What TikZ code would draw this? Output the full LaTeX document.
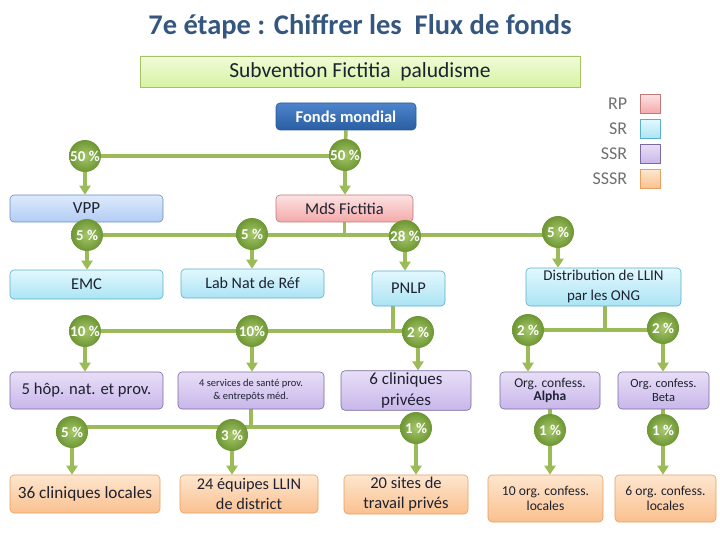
\documentclass[tikz,border=0pt]{standalone}
\usepackage{fontspec}
\setmainfont{Carlito}
\usetikzlibrary{positioning, arrows.meta, backgrounds}
\definecolor{titleblue}{HTML}{35577F}
\definecolor{textdark}{HTML}{1E2230}
\definecolor{flowgreen}{HTML}{9BBB59}
\definecolor{pcin}{HTML}{A6C76A}
\definecolor{pcout}{HTML}{6E9634}
\definecolor{subtop}{HTML}{F0FCD8}
\definecolor{subbot}{HTML}{D6F3A4}
\definecolor{subline}{HTML}{A4C464}
\definecolor{fmtop}{HTML}{4D84CC}
\definecolor{fmbot}{HTML}{2A5EA2}
\definecolor{fmline}{HTML}{2A5A98}
\definecolor{vpptop}{HTML}{DDE9FC}
\definecolor{vppbot}{HTML}{B2CDF4}
\definecolor{vppline}{HTML}{6A8CC0}
\definecolor{rptop}{HTML}{FCE2E2}
\definecolor{rpbot}{HTML}{F4A9A9}
\definecolor{rpline}{HTML}{C07878}
\definecolor{srtop}{HTML}{E2F8FE}
\definecolor{srbot}{HTML}{ABE4F4}
\definecolor{srline}{HTML}{5EAEC8}
\definecolor{ssrtop}{HTML}{E8DEF7}
\definecolor{ssrbot}{HTML}{C8B7EA}
\definecolor{ssrline}{HTML}{7A6A9E}
\definecolor{sssrtop}{HTML}{FEE6CE}
\definecolor{sssrbot}{HTML}{FAC08F}
\definecolor{sssrline}{HTML}{E8A060}
\definecolor{leggray}{HTML}{707070}
\newcommand{\fsz}[2]{\fontsize{#1}{#2}\selectfont}

\begin{document}
\begin{tikzpicture}[x=1pt, y=-1pt,
        box/.style={rectangle, rounded corners=4pt, draw, semithick, align=center, text=textdark, inner sep=2pt},
        subbox/.style={rectangle, draw=subline, top color=subtop, bottom color=subbot, minimum width=440pt, minimum height=31pt, font=\fsz{21.5}{24}, text=textdark},
        fmbox/.style={box, draw=fmline, top color=fmtop, bottom color=fmbot, text=white, font=\bfseries\fsz{16.5}{18}},
        vppbox/.style={box, draw=vppline, top color=vpptop, bottom color=vppbot},
        rpbox/.style={box, draw=rpline, top color=rptop, bottom color=rpbot},
        srbox/.style={box, draw=srline, top color=srtop, bottom color=srbot},
        ssrbox/.style={box, draw=ssrline, top color=ssrtop, bottom color=ssrbot},
        sssrbox/.style={box, draw=sssrline, top color=sssrtop, bottom color=sssrbot},
        legbox/.style={rectangle, semithick, minimum width=20pt, minimum height=19pt},
        legtxt/.style={font=\fsz{18}{20}, text=leggray, anchor=east},
        pct/.style={circle, minimum size=32pt, inner sep=0pt, inner color=pcin, outer color=pcout, text=white, font=\bfseries\fsz{15}{15}},
        flow/.style={line width=3.5pt, draw=flowgreen},
        arrow/.style={flow, -{Triangle[width=11pt,length=9pt]}},
    ]
    \useasboundingbox (0,0) rectangle (720,540);

    % ===== Title and grant =====
    \node[font=\bfseries\fsz{28.5}{32}, text=titleblue] (title) at (360,27) {7e étape : Chiffrer les\ \ Flux de fonds};
    \node[subbox] (sub) at (360,71.5) {Subvention Fictitia\ \ paludisme};

    % ===== Legend =====
    \node[legbox, draw=rpline, top color=rptop, bottom color=rpbot] (legRP) at (650,104) {};
    \node[legbox, draw=srline, top color=srtop, bottom color=srbot] (legSR) at (650,129) {};
    \node[legbox, draw=ssrline, top color=ssrtop, bottom color=ssrbot] (legSSR) at (650,154) {};
    \node[legbox, draw=sssrline, top color=sssrtop, bottom color=sssrbot] (legSSSR) at (650,179) {};
    \node[legtxt, left=9pt of legRP.west, anchor=east] {RP};
    \node[legtxt, left=9pt of legSR.west, anchor=east] {SR};
    \node[legtxt, left=9pt of legSSR.west, anchor=east] {SSR};
    \node[legtxt, left=9pt of legSSSR.west, anchor=east] {SSSR};

    % ===== Level 0 / 1 =====
    \node[fmbox, minimum width=140pt, minimum height=27pt] (FM) at (346,116.5) {Fonds mondial};
    \node[pct] (P50A) at (85,156) {50 \%};
    \node[pct] (P50B) at (345,155) {50 \%};
    \node[vppbox, minimum width=153pt, minimum height=27pt, font=\fsz{17}{19}] (VPP) at (86.5,208.5) {VPP};
    \node[rpbox, minimum width=137pt, minimum height=27pt, font=\fsz{16.5}{19}] (MDS) at (344.5,208.5) {MdS Fictitia};

    % ===== Level 2 (SR) =====
    \node[pct] (P5A) at (87,235) {5 \%};
    \node[pct] (P5B) at (252,234) {5 \%};
    \node[pct] (P28) at (405,236) {28 \%};
    \node[pct] (P5C) at (558,232) {5 \%};
    \node[srbox, minimum width=153pt, minimum height=29pt, font=\fsz{16.5}{19}] (EMC) at (86.5,284.5) {EMC};
    \node[srbox, minimum width=143pt, minimum height=29pt, font=\fsz{16}{18}] (LAB) at (252.5,283.5) {Lab Nat de Réf};
    \node[srbox, minimum width=73pt, minimum height=35pt, font=\fsz{16.5}{19}] (PNLP) at (408.5,288.5) {PNLP};
    \node[srbox, minimum width=155pt, minimum height=38pt, font=\fsz{15}{20}] (DIST) at (603.5,287) {Distribution de LLIN\\par les ONG};

    % ===== Level 3 (SSR) =====
    \node[pct] (P10A) at (85,331) {10 \%};
    \node[pct] (P10B) at (252,331) {10\%};
    \node[pct] (P2A) at (418,332) {2 \%};
    \node[pct] (P2B) at (528,330) {2 \%};
    \node[pct] (P2C) at (663,328) {2 \%};
    \node[ssrbox, minimum width=153pt, minimum height=37pt, font=\fsz{16.6}{18}] (HOP) at (86.5,390.5) {5 hôp. nat. et prov.};
    \node[ssrbox, minimum width=146pt, minimum height=37pt, font=\fsz{10.5}{13}] (SERV) at (251,390.5) {4 services de santé prov.\\\& entrepôts méd.};
    \node[ssrbox, minimum width=130pt, minimum height=37pt, font=\fsz{17}{21}] (CLI) at (406,390.5) {6 cliniques\\privées};
    \node[ssrbox, minimum width=100pt, minimum height=37pt, font=\fsz{13.5}{13.5}] (ALPHA) at (550,390.5) {Org. confess.\\\textbf{Alpha}};
    \node[ssrbox, minimum width=91pt, minimum height=37pt, font=\fsz{12.5}{13.5}] (BETA) at (663.5,390.5) {Org. confess.\\Beta};

    % ===== Level 4 (SSSR) =====
    \node[pct] (P5D) at (72,432) {5 \%};
    \node[pct] (P3) at (232,435) {3 \%};
    \node[pct] (P1A) at (416,428) {1 \%};
    \node[pct] (P1B) at (550,430) {1 \%};
    \node[pct] (P1C) at (663,430) {1 \%};
    \node[sssrbox, minimum width=150pt, minimum height=38pt, font=\fsz{17.2}{19}] (LOC) at (85,494) {36 cliniques locales};
    \node[sssrbox, minimum width=138pt, minimum height=38pt, font=\fsz{16.3}{20}] (EQU) at (249,494) {24 équipes LLIN\\de district};
    \node[sssrbox, minimum width=124pt, minimum height=39pt, font=\fsz{16.5}{20}] (SITES) at (406,494.5) {20 sites de\\travail privés};
    \node[sssrbox, minimum width=115pt, minimum height=47pt, font=\fsz{13.6}{15}] (ORG10) at (545.5,498.5) {10 org. confess.\\locales};
    \node[sssrbox, minimum width=101pt, minimum height=47pt, font=\fsz{13.6}{15}] (ORG6) at (665.5,498.5) {6 org. confess.\\locales};

    % ===== Split lines (behind the circles) =====
    \begin{scope}[on background layer]
        \draw[flow] (FM.south) -- (P50B.center);
        \draw[flow] (P50A.center) -- (P50A.center -| P50B.center);
        \draw[flow] (MDS.south) -- (MDS.south |- P5B.center);
        \draw[flow] (PNLP.south -| 393,0) -- (393,331);
        \draw[flow] (P5A.center) -- (P5A.center -| P5C.center);
        \draw[flow] (P10A.center) -- (P10A.center -| P2A.center);
        \draw[flow] (DIST.south -| 605,0) -- (605,330);
        \draw[flow] (P2B.center) -- (P2B.center -| P2C.center);
        \draw[flow] (SERV.south) -- (SERV.south |- 0,427);
        \draw[flow] (P5D.center |- 0,427) -- (P1A.center |- 0,427);
        \draw[flow] (ALPHA.south) -- (P1B.center);
        \draw[flow] (BETA.south -| P1C.center) -- (P1C.center);
    \end{scope}

    % ===== Arrows =====
    \draw[arrow] (P50A) -- (P50A |- VPP.north);
    \draw[arrow] (P50B) -- (P50B |- MDS.north);
    \draw[arrow] (P5A) -- (P5A |- EMC.north);
    \draw[arrow] (P5B) -- (P5B |- LAB.north);
    \draw[arrow] (P28) -- (P28 |- PNLP.north);
    \draw[arrow] (P5C) -- (P5C |- DIST.north);
    \draw[arrow] (P10A) -- (P10A |- HOP.north);
    \draw[arrow] (P10B) -- (P10B |- SERV.north);
    \draw[arrow] (P2A) -- (P2A |- CLI.north);
    \draw[arrow] (P2B) -- (P2B |- ALPHA.north);
    \draw[arrow] (P2C) -- (P2C |- BETA.north);
    \draw[arrow] (P5D) -- (P5D |- LOC.north);
    \draw[arrow] (P3) -- (P3 |- EQU.north);
    \draw[arrow] (P1A) -- (P1A |- SITES.north);
    \draw[arrow] (P1B) -- (P1B |- ORG10.north);
    \draw[arrow] (P1C) -- (P1C |- ORG6.north);
\end{tikzpicture}
\end{document}
